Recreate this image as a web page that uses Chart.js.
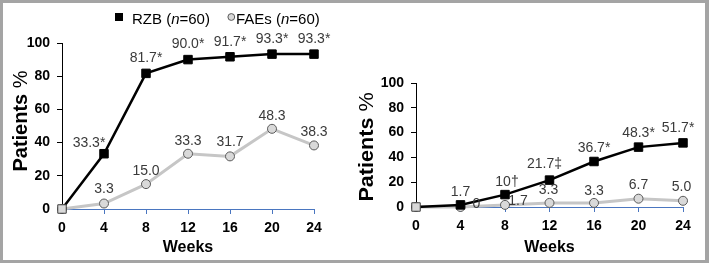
<!DOCTYPE html>
<html><head><meta charset="utf-8">
<script src="https://cdn.jsdelivr.net/npm/chart.js@4.4.1/dist/chart.umd.min.js"></script>
<style>
html,body{margin:0;padding:0;background:#fff;}
#wrap{position:relative;width:709px;height:263px;overflow:hidden;background:#fff;}
#c1{position:absolute;left:0;top:0;}
#c2{position:absolute;left:355px;top:0;}
#frame{position:absolute;left:0;top:0;width:709px;height:263px;box-sizing:border-box;border:3px solid #a4a4a4;border-right-width:4px;pointer-events:none;}
</style></head><body>
<div id="wrap"><canvas id="c1" width="355" height="263"></canvas><canvas id="c2" width="354" height="263"></canvas><div id="frame"></div></div>
<script>
// ---- data ----
const weeks = ['0', '4', '8', '12', '16', '20', '24'];
const yTicks = [0, 20, 40, 60, 80, 100];
const seriesNames = ['RZB', 'FAEs'];
const rzbA = [0, 33.3, 81.7, 90.0, 91.7, 93.3, 93.3];
const faesA = [0, 3.3, 15.0, 33.3, 31.7, 48.3, 38.3];
const rzbB = [0, 1.7, 10, 21.7, 36.7, 48.3, 51.7];
const faesB = [0, 0, 1.7, 3.3, 3.3, 6.7, 5.0];
const rzbALabels = ['', '33.3*', '81.7*', '90.0*', '91.7*', '93.3*', '93.3*'];
const faesALabels = ['', '3.3', '15.0', '33.3', '31.7', '48.3', '38.3'];
const rzbBLabels = ['', '1.7', '10†', '21.7‡', '36.7*', '48.3*', '51.7*'];
const faesBLabels = ['', '0', '1.7', '3.3', '3.3', '6.7', '5.0'];

// ---- label placement (relative offsets, styling only) ----
const rzbAOff = [[0,0],[-15,-11],[0,-15],[0,-15],[0,-15],[0,-15],[0,-15]];
const faesAOff = [[0,0],[0,-14],[0,-13],[0,-13],[0,-14],[0,-13],[0,-13]];
const rzbBOff = [[0,0],[0,-13],[2,-12],[-5,-15.5],[0,-13.5],[0,-13.5],[-5,-14.5]];
const faesBOff = [[0,0],[16,-2.5],[13,-4],[-1,-13],[0,-12],[0,-13.5],[-1.5,-13.5]];

const FONT = "'Liberation Sans', Arial, Helvetica, sans-serif";
Chart.defaults.font.family = FONT;

const valueLabels = {
  id: 'valueLabels',
  afterDatasetsDraw(chart, args, opts) {
    const ctx = chart.ctx;
    ctx.save();
    ctx.font = '14px ' + FONT;
    ctx.fillStyle = '#3a3a3a';
    ctx.textAlign = 'center';
    ctx.textBaseline = 'middle';
    opts.sets.forEach((s, di) => {
      const meta = chart.getDatasetMeta(di);
      meta.data.forEach((pt, i) => {
        const t = s.labels[i];
        if (!t) return;
        const o = s.offsets[i];
        ctx.fillText(t, pt.x + o[0], pt.y + o[1]);
      });
    });
    ctx.restore();
  }
};

const yTitle = {
  id: 'yTitle',
  afterDraw(chart, args, opts) {
    const ctx = chart.ctx;
    const ca = chart.chartArea;
    ctx.save();
    ctx.translate(opts.x, (ca.top + ca.bottom) / 2 + opts.dy);
    ctx.rotate(-Math.PI / 2);
    ctx.scale(opts.stretch, 1);
    ctx.textBaseline = 'alphabetic';
    ctx.fillStyle = '#000';
    const bold = 'bold ' + opts.size + 'px ' + FONT;
    const reg = opts.size + 'px ' + FONT;
    ctx.font = bold;
    const w1 = ctx.measureText('Patients ').width;
    ctx.font = reg;
    const w2 = ctx.measureText('%').width;
    const start = -(w1 + w2) / 2;
    ctx.font = bold;
    ctx.textAlign = 'left';
    ctx.fillText('Patients ', start, 0);
    ctx.font = reg;
    ctx.fillText('%', start + w1, 0);
    ctx.restore();
  }
};

const customLegend = {
  id: 'customLegend',
  afterDraw(chart) {
    const ctx = chart.ctx;
    ctx.save();
    ctx.textBaseline = 'alphabetic';
    ctx.textAlign = 'left';
    ctx.fillStyle = '#000';
    const by = 23.5;
    const drawEntry = (x, name) => {
      ctx.font = '15px ' + FONT;
      ctx.fillStyle = '#000';
      let s = name + ' (';
      ctx.fillText(s, x, by); x += ctx.measureText(s).width;
      ctx.font = 'italic 15px ' + FONT;
      ctx.fillText('n', x, by); x += ctx.measureText('n').width;
      ctx.font = '15px ' + FONT;
      ctx.fillText('=60)', x, by);
    };
    ctx.fillStyle = '#000';
    ctx.fillRect(115, 13, 8, 8);
    drawEntry(132, seriesNames[0]);
    ctx.beginPath();
    ctx.arc(231.3, 17, 3.4, 0, Math.PI * 2);
    ctx.fillStyle = '#d9d9d9';
    ctx.fill();
    ctx.lineWidth = 1;
    ctx.strokeStyle = '#5a5a5a';
    ctx.stroke();
    drawEntry(236, seriesNames[1]);
    ctx.restore();
  }
};

function makeChart(canvas, rzb, faes, rzbL, faesL, rzbO, faesO, geo, extraPlugins) {
  const firstFill = weeks.map((w, i) => i === 0 ? '#d9d9d9' : '#000');
  const firstBorder = weeks.map((w, i) => i === 0 ? '#404040' : '#000');
  return new Chart(canvas, {
    type: 'line',
    data: {
      labels: weeks,
      datasets: [
        {
          label: seriesNames[0], data: rzb,
          borderColor: '#000', borderWidth: 2.5, tension: 0,
          pointStyle: 'rect', pointRadius: 6, pointBackgroundColor: firstFill,
          pointBorderColor: firstBorder, pointBorderWidth: 1, clip: false
        },
        {
          label: seriesNames[1], data: faes,
          borderColor: '#c6c6c6', borderWidth: 3, tension: 0,
          pointStyle: 'circle', pointRadius: 4.5, pointBackgroundColor: '#d9d9d9',
          pointBorderColor: '#5a5a5a', pointBorderWidth: 1, clip: false
        }
      ]
    },
    options: {
      responsive: false, animation: false, devicePixelRatio: 1,
      layout: { padding: { top: geo.top, right: geo.right, left: 0, bottom: 0 } },
      plugins: {
        legend: { display: false }, tooltip: { enabled: false },
        valueLabels: { sets: [ { labels: rzbL, offsets: rzbO }, { labels: faesL, offsets: faesO } ] },
        yTitle: geo.yTitle
      },
      scales: {
        x: {
          type: 'category', offset: false,
          afterFit: s => { s.height = geo.xh; },
          grid: { drawOnChartArea: false, drawTicks: true, tickLength: 5, color: '#4a76c0' },
          border: { display: true, color: '#4a76c0', width: 1 },
          ticks: { color: '#000', font: { size: 14, weight: 'bold' }, padding: 6, maxRotation: 0, autoSkip: false },
          title: { display: true, text: 'Weeks', color: '#000', font: { size: 16, weight: 'bold' }, padding: { top: geo.tp, bottom: geo.tp } }
        },
        y: {
          min: 0, max: 100,
          afterFit: s => { s.width = geo.yw; },
          afterBuildTicks: s => { s.ticks = yTicks.map(v => ({ value: v })); },
          grid: { drawOnChartArea: false, drawTicks: true, tickLength: 5, color: '#000' },
          border: { display: true, color: '#000', width: 1 },
          ticks: { color: '#000', font: { size: 14, weight: 'bold' }, padding: 7 }
        }
      }
    },
    plugins: [valueLabels, yTitle].concat(extraPlugins)
  });
}

makeChart(document.getElementById('c1'), rzbA, faesA, rzbALabels, faesALabels, rzbAOff, faesAOff,
  { top: 43, right: 41, xh: 54, yw: 62, tp: 6, yTitle: { x: 27, dy: -5, size: 20, stretch: 1 } }, [customLegend]);
makeChart(document.getElementById('c2'), rzbB, faesB, rzbBLabels, faesBLabels, rzbBOff, faesBOff,
  { top: 83, right: 26, xh: 56, yw: 61, tp: 6, yTitle: { x: 18, dy: 2, size: 20, stretch: 1.08 } }, []);
</script>
</body></html>
